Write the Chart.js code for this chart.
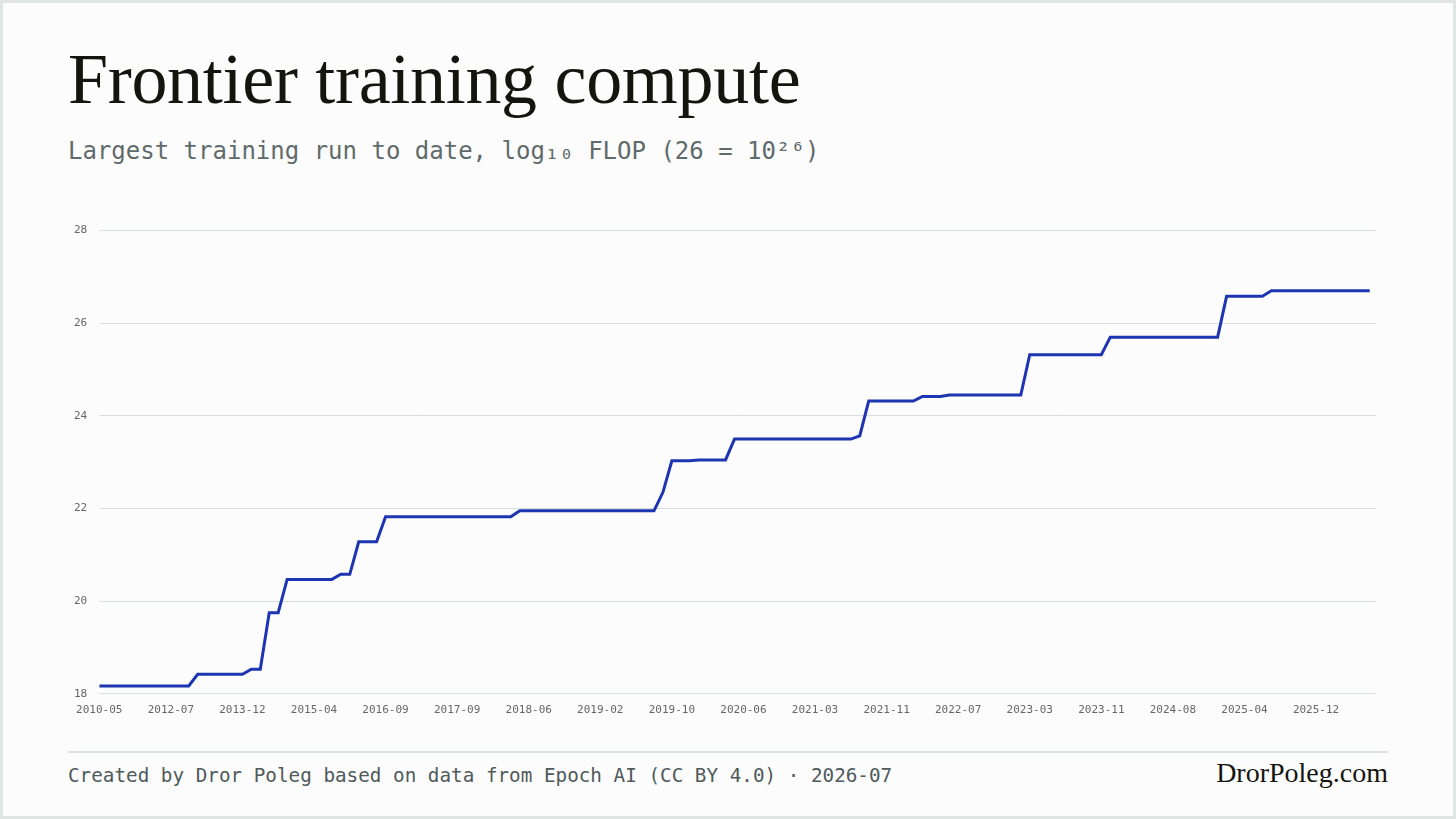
<!DOCTYPE html>
<html>
<head>
<meta charset="utf-8">
<script src="https://cdn.jsdelivr.net/npm/chart.js@4"></script>
<style>
  html, body { margin: 0; padding: 0; }
  body { width: 1456px; height: 819px; background: #fcfcfc; position: relative; overflow: hidden; }
  .frame { position: absolute; inset: 0; border: 3px solid #dfe5e3; box-sizing: border-box; }
  h1 { position: absolute; left: 68px; top: 38px; margin: 0; font: 500 72px "Liberation Serif", serif; color: #15150f; letter-spacing: -0.3px; }
  .sub { position: absolute; left: 68px; top: 137px; font: 24px "DejaVu Sans Mono", monospace; color: #5f6b6b; }
  .chart { position: absolute; left: 62px; top: 212px; width: 1316px; height: 507px; }
  .rule { position: absolute; left: 68px; top: 751px; width: 1320px; height: 2px; background: #dde3e1; }
  .foot { position: absolute; left: 68px; top: 764px; font: 19.3px "DejaVu Sans Mono", monospace; color: #4f5a5a; }
  .brand { position: absolute; right: 68px; top: 757px; font: 28px "Liberation Serif", serif; color: #15150f; }
</style>
</head>
<body>
<div class="frame"></div>
<h1>Frontier training compute</h1>
<div class="sub">Largest training run to date, log₁₀ FLOP (26 = 10²⁶)</div>
<div class="chart"><canvas id="chart"></canvas></div>
<div class="rule"></div>
<div class="foot">Created by Dror Poleg based on data from Epoch AI (CC BY 4.0) · 2026-07</div>
<div class="brand">DrorPoleg.com</div>
<script>
// tick labels, one every 8 data steps
const tickLabels = ["2010-05", "2012-07", "2013-12", "2015-04", "2016-09", "2017-09",
  "2018-06", "2019-02", "2019-10", "2020-06", "2021-03", "2021-11", "2022-07",
  "2023-03", "2023-11", "2024-08", "2025-04", "2025-12"];

// step index where the value changes, and log10 FLOP at that step
const steps = [0, 10, 11, 16, 17, 18, 19, 20, 21, 26, 27, 28, 29, 31, 32, 46, 47, 62, 63,
  64, 66, 67, 70, 71, 84, 85, 86, 91, 92, 94, 95, 103, 104, 112, 113, 125, 126, 130, 131, 142];
const flop = [18.17, 18.17, 18.42, 18.42, 18.53, 18.53, 19.75, 19.75, 20.47, 20.47, 20.58,
  20.58, 21.28, 21.28, 21.82, 21.82, 21.95, 21.95, 22.35, 23.03, 23.03, 23.05, 23.05, 23.5,
  23.5, 23.57, 24.32, 24.32, 24.42, 24.42, 24.45, 24.45, 25.32, 25.32, 25.7, 25.7, 26.58,
  26.58, 26.7, 26.7];

const tickFont = { family: "DejaVu Sans Mono", size: 11 };

new Chart(document.querySelector("#chart").getContext("2d"), {
  type: "line",
  data: {
    datasets: [{
      data: steps.map((s, i) => ({ x: s, y: flop[i] })),
      borderColor: "#1d35b0",
      borderWidth: 3,
      pointRadius: 0,
      tension: 0,
    }],
  },
  options: {
    responsive: true,
    maintainAspectRatio: false,
    animation: false,
    plugins: { legend: { display: false }, tooltip: { enabled: false } },
    scales: {
      x: {
        type: "linear",
        min: 0,
        max: 142.7,
        grid: { display: false },
        border: { display: false },
        ticks: {
          stepSize: 8,
          autoSkip: false,
          maxRotation: 0,
          color: "#666",
          font: tickFont,
          padding: 2,
          callback: (v) => tickLabels[v / 8] || "",
        },
      },
      y: {
        min: 18,
        max: 28,
        grid: { color: "#d5dfdd", drawTicks: false },
        border: { display: false },
        ticks: { stepSize: 2, color: "#666", font: tickFont, padding: 12 },
      },
    },
  },
});
</script>
</body>
</html>
